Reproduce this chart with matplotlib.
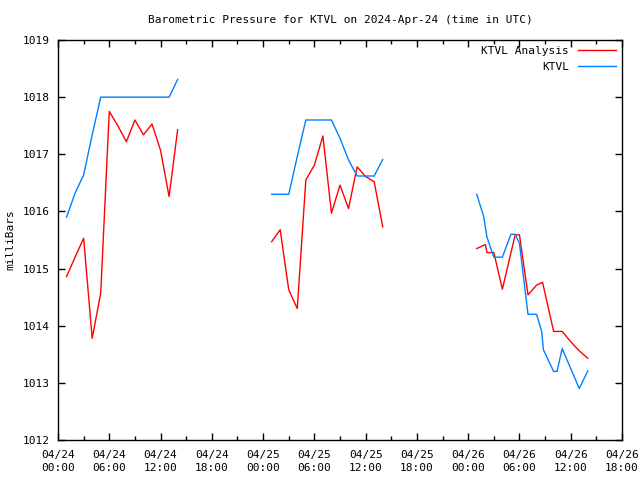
import matplotlib
matplotlib.use("Agg")
import matplotlib.pyplot as plt
import numpy as np

# hours since 2024-04-24 00:00 UTC
analysis_hours = [1, 2, 3, 4, 5, 6, 7, 8, 9, 10, 11, 12, 13, 14,
                  None,
                  25, 26, 27, 28, 29, 30, 31, 32, 33, 34, 35, 36, 37, 38,
                  None,
                  49, 50, 50.2, 51, 52, 53.5, 54, 55, 56, 56.7, 58, 59, 60, 61, 62]
analysis_vals = [1014.86, 1015.2, 1015.53, 1013.78, 1014.57, 1017.75, 1017.5, 1017.22, 1017.6, 1017.34, 1017.53, 1017.07, 1016.26, 1017.43,
                 None,
                 1015.47, 1015.68, 1014.63, 1014.3, 1016.55, 1016.81, 1017.32, 1015.97, 1016.46, 1016.05, 1016.78, 1016.61, 1016.52, 1015.73,
                 None,
                 1015.35, 1015.42, 1015.28, 1015.28, 1014.64, 1015.59, 1015.59, 1014.54, 1014.71, 1014.76, 1013.9, 1013.9, 1013.72, 1013.56, 1013.43]

obs_hours = [1, 2, 3, 4, 5, 6, 7, 8, 9, 10, 11, 12, 13, 14,
             None,
             25, 26, 27, 28, 29, 30, 31, 32, 33, 34, 35, 36, 37, 38,
             None,
             49, 49.8, 50.2, 51, 52, 53, 53.5, 54, 55, 56, 56.6, 56.8, 58, 58.4, 59, 60, 61, 62]
obs_vals = [1015.9, 1016.32, 1016.64, 1017.34, 1018.0, 1018.0, 1018.0, 1018.0, 1018.0, 1018.0, 1018.0, 1018.0, 1018.0, 1018.31,
            None,
            1016.3, 1016.3, 1016.3, 1016.96, 1017.6, 1017.6, 1017.6, 1017.6, 1017.28, 1016.9, 1016.62, 1016.62, 1016.62, 1016.91,
            None,
            1016.3, 1015.92, 1015.55, 1015.2, 1015.2, 1015.6, 1015.6, 1015.44, 1014.2, 1014.2, 1013.9, 1013.58, 1013.2, 1013.2, 1013.6, 1013.25, 1012.9, 1013.21]

xtick_hours = list(range(0, 67, 6))
xtick_labels = ["04/24\n00:00", "04/24\n06:00", "04/24\n12:00", "04/24\n18:00",
                "04/25\n00:00", "04/25\n06:00", "04/25\n12:00", "04/25\n18:00",
                "04/26\n00:00", "04/26\n06:00", "04/26\n12:00", "04/26\n18:00"]
yticks = [1012, 1013, 1014, 1015, 1016, 1017, 1018, 1019]

def to_arr(v):
    return np.array([np.nan if a is None else a for a in v], dtype=float)

plt.rcParams['font.family'] = ['DejaVu Sans Mono']
plt.rcParams['font.size'] = 8

fig = plt.figure(figsize=(6.4, 4.8), dpi=100)
ax = fig.add_axes([58/640, 40/480, 564/640, 400/480])

ax.plot(to_arr(analysis_hours), to_arr(analysis_vals), color='#ff0000', lw=1, label='KTVL Analysis')
ax.plot(to_arr(obs_hours), to_arr(obs_vals), color='#0080ff', lw=1, label='KTVL')

ax.set_xlim(0, 66)
ax.set_ylim(1012, 1019)
ax.set_xticks(xtick_hours)
ax.set_xticklabels(xtick_labels, linespacing=1.45)
ax.set_xticks(list(range(3, 66, 6)), minor=True)
ax.set_yticks(yticks)
ax.set_yticklabels([str(v) for v in yticks])
ax.tick_params(axis='both', which='both', direction='in', top=True, right=True, labelsize=8, width=1)
ax.tick_params(which='major', length=5)
ax.tick_params(which='minor', length=3)
ax.tick_params(axis='x', pad=7)
ax.tick_params(axis='y', pad=6)
for s in ax.spines.values():
    s.set_linewidth(1)

ax.set_title('Barometric Pressure for KTVL on 2024-Apr-24 (time in UTC)', fontsize=8, pad=12)
ax.set_ylabel('milliBars', fontsize=8, labelpad=5)

leg = ax.legend(loc='upper right', frameon=False, fontsize=8, markerfirst=False,
                handlelength=3.4, borderaxespad=0.15, labelspacing=0.5, handletextpad=0.8)
for t in leg.get_texts():
    t.set_ha('right')

fig.savefig('out.png', dpi=100)
